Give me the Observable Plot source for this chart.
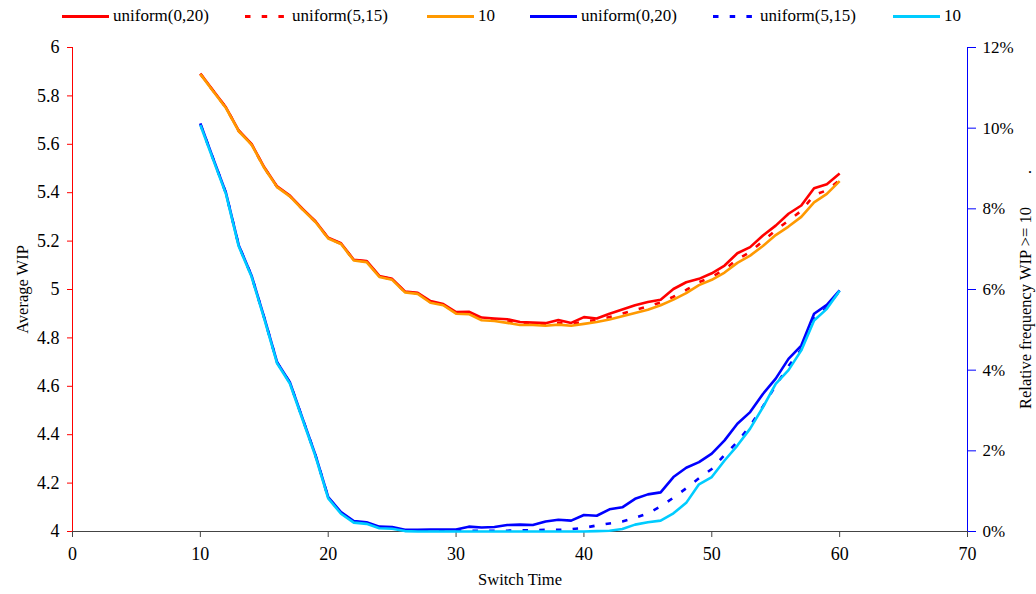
<!DOCTYPE html>
<html>
<head>
<meta charset="utf-8">
<script src="https://cdn.jsdelivr.net/npm/d3@7"></script>
<script src="https://cdn.jsdelivr.net/npm/@observablehq/plot@0.6"></script>
<style>
  html, body { margin: 0; padding: 0; background: #fff; }
  body { width: 1036px; height: 594px; overflow: hidden; font-family: "Liberation Serif", "Times New Roman", Times, "DejaVu Serif", serif; }
  #legend { position: relative; height: 35px; width: 1036px; }
  .item { position: absolute; top: 0; height: 35px; }
  .item svg { position: absolute; top: 0; left: 0; }
  .item span { position: absolute; top: 6px; font-size: 17px; color: #000; white-space: nowrap; font-family: "Liberation Serif", "Times New Roman", Times, "DejaVu Serif", serif; }
  #chart svg { display: block; }
  #chart svg, #chart svg text { font-family: "Liberation Serif", "Times New Roman", Times, "DejaVu Serif", serif !important; }
</style>
</head>
<body>
<div id="legend"></div>
<div id="chart"></div>
<script>
// ---------- data ----------
const switchTime = [10,11,12,13,14,15,16,17,18,19,20,21,22,23,24,25,26,27,28,29,30,31,32,33,34,35,36,37,38,39,40,41,42,43,44,45,46,47,48,49,50,51,52,53,54,55,56,57,58,59,60];

// Average WIP (left axis)
const wipUniform020 = [5.892,5.822,5.753,5.657,5.602,5.505,5.426,5.388,5.333,5.282,5.214,5.191,5.123,5.118,5.056,5.044,4.992,4.986,4.952,4.940,4.907,4.908,4.884,4.880,4.877,4.866,4.863,4.861,4.874,4.862,4.886,4.880,4.900,4.917,4.935,4.948,4.958,5.002,5.030,5.044,5.067,5.099,5.150,5.175,5.223,5.264,5.313,5.347,5.418,5.435,5.479];
const wipUniform515 = [5.891,5.821,5.752,5.655,5.600,5.503,5.424,5.386,5.331,5.280,5.212,5.189,5.121,5.116,5.054,5.042,4.990,4.984,4.948,4.937,4.903,4.902,4.878,4.874,4.868,4.858,4.857,4.856,4.862,4.857,4.868,4.874,4.886,4.900,4.915,4.930,4.946,4.970,4.998,5.030,5.052,5.083,5.125,5.155,5.200,5.245,5.285,5.325,5.390,5.410,5.452];
const wipConst10    = [5.890,5.819,5.750,5.654,5.599,5.502,5.423,5.385,5.330,5.279,5.211,5.188,5.120,5.113,5.052,5.040,4.988,4.982,4.945,4.935,4.900,4.898,4.873,4.870,4.862,4.853,4.853,4.850,4.855,4.850,4.858,4.866,4.876,4.889,4.903,4.916,4.935,4.958,4.985,5.018,5.040,5.070,5.110,5.140,5.180,5.225,5.260,5.300,5.360,5.395,5.448];

// Relative frequency WIP >= 10, in % (right axis)
const freqUniform020 = [10.12,9.25,8.40,7.10,6.35,5.30,4.20,3.70,2.80,1.90,0.85,0.48,0.26,0.23,0.12,0.11,0.04,0.04,0.05,0.05,0.05,0.12,0.10,0.11,0.16,0.17,0.16,0.25,0.29,0.27,0.41,0.39,0.55,0.60,0.81,0.92,0.97,1.35,1.58,1.72,1.93,2.26,2.67,2.96,3.41,3.79,4.28,4.61,5.40,5.62,5.98];
const freqUniform515 = [10.10,9.24,8.39,7.09,6.34,5.29,4.19,3.69,2.79,1.89,0.84,0.46,0.24,0.21,0.10,0.09,0.03,0.02,0.02,0.02,0.02,0.02,0.02,0.02,0.02,0.03,0.03,0.04,0.04,0.06,0.09,0.15,0.20,0.25,0.34,0.45,0.62,0.84,1.07,1.32,1.55,1.90,2.22,2.62,3.10,3.62,4.10,4.52,5.28,5.55,5.97];
const freqConst10    = [10.08,9.22,8.37,7.07,6.32,5.27,4.17,3.67,2.77,1.87,0.82,0.44,0.22,0.19,0.08,0.07,0.01,0.00,0.00,0.00,0.00,0.00,0.00,0.00,0.00,0.00,0.00,0.00,0.00,0.00,0.00,0.01,0.02,0.06,0.17,0.23,0.27,0.45,0.71,1.17,1.35,1.76,2.13,2.55,3.08,3.66,4.00,4.49,5.23,5.52,5.97];

const seriesNames  = ["uniform(0,20)", "uniform(5,15)", "10", "uniform(0,20)", "uniform(5,15)", "10"];
const seriesColors = ["#ff0000", "#ff0000", "#ff9900", "#0000ff", "#0000ff", "#00ccff"];
const seriesDashed = [false, true, false, false, true, false];

const xTicks = [0,10,20,30,40,50,60,70];
const leftTicks = [4,4.2,4.4,4.6,4.8,5,5.2,5.4,5.6,5.8,6];
const rightTicks = [0,2,4,6,8,10,12];

// ---------- helpers ----------
const pctToLeft = p => 4 + p / 6;          // 0% -> 4, 12% -> 6
const leftToPct = v => Math.round((v - 4) * 6);
const dash = "5.5,11.2";

const leftSeries = [wipUniform020, wipUniform515, wipConst10];
const rightSeries = [freqUniform020, freqUniform515, freqConst10];
const allSeries = [
  ...leftSeries.map(arr => switchTime.map((t, i) => ({t, v: arr[i]}))),
  ...rightSeries.map(arr => switchTime.map((t, i) => ({t, v: pctToLeft(arr[i])})))
];

// ---------- legend ----------
const legendX = [62, 241, 427, 530, 709, 893];
const legend = document.getElementById("legend");
seriesNames.forEach((name, k) => {
  const item = document.createElement("div");
  item.className = "item";
  item.style.left = legendX[k] + "px";
  const da = seriesDashed[k] ? `stroke-dasharray="${dash}" stroke-dashoffset="12.7"` : "";
  item.innerHTML = `<svg width="48" height="35"><line x1="0" x2="47" y1="16.5" y2="16.5" stroke="${seriesColors[k]}" stroke-width="3" ${da}/></svg><span style="left:51px">${name}</span>`;
  legend.appendChild(item);
});

// ---------- chart ----------
const font = "'Liberation Serif', 'Times New Roman', Times, 'DejaVu Serif', serif";
const marks = [
  Plot.ruleY([4], {stroke: "#444", strokeWidth: 1.2}),
  Plot.ruleX([0], {stroke: "#ff0000", strokeWidth: 1}),
  Plot.ruleX([70], {stroke: "#0000ff", strokeWidth: 1}),
  Plot.axisX({ticks: xTicks, tickSize: 6, tickPadding: 10, stroke: "#444", fontSize: 18, label: null, tickFormat: d => String(d)}),
  Plot.axisY({anchor: "left", ticks: leftTicks, tickSize: 5, tickPadding: 8, stroke: "#ff0000", fontSize: 18, label: null, tickFormat: d => String(Math.round(d * 10) / 10)}),
  Plot.axisY({anchor: "right", ticks: rightTicks.map(pctToLeft), tickSize: 8, tickPadding: 7, stroke: "#0000ff", fontSize: 17, label: null, tickFormat: d => leftToPct(d) + "%"}),
  Plot.text(["Switch Time"], {frameAnchor: "bottom", dy: 53, text: d => d, fontSize: 16.5, fill: "#000", textAnchor: "middle"}),
  Plot.text(["Average WIP"], {frameAnchor: "left", dx: -50, rotate: -90, text: d => d, fontSize: 16.5, fill: "#000", textAnchor: "middle"}),
  Plot.text(["Relative frequency WIP >= 10\u00a0\u00a0\u00a0\u00a0\u00a0\u00a0\u00a0\u00a0."], {frameAnchor: "right", dx: 58, rotate: -90, text: d => d, fontSize: 16.5, fill: "#000", textAnchor: "middle"}),
  ...allSeries.map((data, k) => Plot.line(data, {
    x: "t", y: "v", stroke: seriesColors[k], strokeWidth: 2.6,
    strokeDasharray: seriesDashed[k] ? dash : undefined,
    strokeLinejoin: "round", strokeLinecap: "butt"
  }))
];

const chart = Plot.plot({
  width: 1036,
  height: 559,
  marginTop: 12,
  marginBottom: 63,
  marginLeft: 72,
  marginRight: 69,
  x: {domain: [0, 70], axis: null},
  y: {domain: [4, 6], axis: null},
  style: {fontFamily: font, fontSize: "18px", color: "#000", background: "#fff"},
  marks
});
document.getElementById("chart").appendChild(chart);
</script>
</body>
</html>
